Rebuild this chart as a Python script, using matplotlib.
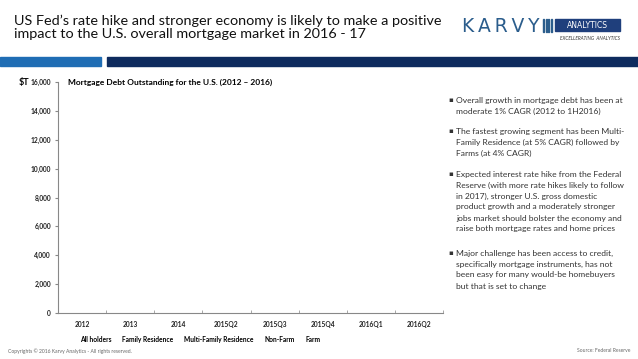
import matplotlib
matplotlib.use("Agg")
import matplotlib.pyplot as plt
from matplotlib.patches import Rectangle, Patch

plt.rcParams["font.family"] = ["Lato", "DejaVu Sans"]

# Chart data (no bars are drawn in the reference, only the frame)
categories = ["2012", "2013", "2014", "2015Q2", "2015Q3", "2015Q4", "2016Q1", "2016Q2"]
series_names = ["All holders", "Family Residence", "Multi-Family Residence", "Non-Farm", "Farm"]
y_ticks = [0, 2000, 4000, 6000, 8000, 10000, 12000, 14000, 16000]

title = ("US Fed\u2019s rate hike and stronger economy is likely to make a positive\n"
         "impact to the U.S. overall mortgage market in 2016 - 17")
chart_title = "Mortgage Debt Outstanding for the U.S. (2012 \u2013 2016)"
bullets = [
    ["Overall growth in mortgage debt has been at",
     "moderate 1% CAGR (2012 to 1H2016)"],
    ["The fastest growing segment has been Multi-",
     "Family Residence (at 5% CAGR) followed by",
     "Farms (at 4% CAGR)"],
    ["Expected interest rate hike from the Federal",
     "Reserve (with more rate hikes likely to follow",
     "in 2017), stronger U.S. gross domestic",
     "product growth and a moderately stronger",
     "jobs market should bolster the economy and",
     "raise both mortgage rates and home prices"],
    ["Major challenge has been access to credit,",
     "specifically mortgage instruments, has not",
     "been easy for many would-be homebuyers",
     "but that is set to change"],
]

W, H = 638, 359
fig = plt.figure(figsize=(W / 100, H / 100), dpi=100)
fig.patch.set_facecolor("white")


def fx(px):
    return px / W


def fy(py):
    return 1 - py / H


# header
fig.text(fx(14), fy(14.5), title, fontsize=10.4, color="#111111", va="top",
         ha="left", linespacing=1.15)

# logo
fig.text(fx(462), fy(26), "K\u2009A\u2009R\u2009V\u2009Y", fontsize=13.5,
         color="#2b5d8c", va="center", ha="left", family="DejaVu Sans")
for i in range(4):
    fig.patches.append(Rectangle((fx(543 + i * 2.5), fy(32)), fx(1.2), 13 / H,
                                 transform=fig.transFigure, color="#2b5d8c"))
fig.patches.append(Rectangle((fx(555), fy(31)), fx(65), 12 / H,
                             transform=fig.transFigure, color="#1f3f7c"))
fig.text(fx(587), fy(25), "ANALYTICS", fontsize=5.5, color="white",
         va="center", ha="center", family="DejaVu Sans")
fig.text(fx(620), fy(39), "EXCELLERATING  ANALYTICS", fontsize=3.4,
         color="#333333", va="center", ha="right", style="italic")

# band
fig.patches.append(Rectangle((0, fy(66)), fx(101), 9 / H,
                             transform=fig.transFigure, color="#1f6db4"))
fig.patches.append(Rectangle((fx(107), fy(66)), fx(W - 107), 9 / H,
                             transform=fig.transFigure, color="#0e2b5e"))

# chart
ax = fig.add_axes([fx(58), fy(313), fx(443 - 58), (313 - 82) / H])
x = list(range(len(categories)))
ax.set_xlim(-0.5, len(categories) - 0.5)
ax.set_ylim(0, 16000)
ax.set_yticks(y_ticks)
ax.set_yticklabels([f"{v:,}" for v in y_ticks], fontsize=4.8,
                   fontweight="bold", color="#222222")
ax.set_xticks(x)
ax.set_xticklabels(categories, fontsize=4.8, fontweight="bold",
                   color="#222222")
ax.set_xticks([i + 0.5 for i in range(-1, len(categories))], minor=True)
ax.tick_params(axis="x", which="major", length=0, pad=6)
ax.tick_params(axis="x", which="minor", length=2, color="#999999",
               direction="in")
ax.tick_params(axis="y", length=2, color="#888888", pad=3)
for s in ["top", "right"]:
    ax.spines[s].set_visible(False)
for s in ["left", "bottom"]:
    ax.spines[s].set_color("#888888")
    ax.spines[s].set_linewidth(0.8)

ax.text(-0.075, 1.0, "$T", transform=ax.transAxes, fontsize=6.5,
        fontweight="bold", ha="right", va="center")
ax.text(fx(68 - 58) / fx(443 - 58), 1.0, chart_title, transform=ax.transAxes,
        fontsize=6.0, fontweight="bold", ha="left", va="center")

handles = [Patch(facecolor="none", edgecolor="none", label=n) for n in series_names]
leg = ax.legend(handles=handles, ncol=5, loc="center",
                bbox_to_anchor=(fx(200 - 58) / fx(443 - 58), -0.115),
                frameon=False, handlelength=0, handletextpad=0,
                columnspacing=1.6, prop={"size": 4.8, "weight": "bold"})

# bullets
starts = [100, 131, 174, 253]
for lines, y0 in zip(bullets, starts):
    fig.text(fx(448), fy(y0), "\u25aa", fontsize=5, ha="left", va="center",
             color="#333333", family="DejaVu Sans")
    for j, line in enumerate(lines):
        fig.text(fx(456), fy(y0 + 11 * j), line, fontsize=6.1,
                 color="#333333", ha="left", va="center")

# footer
fig.text(fx(8), fy(351), "Copyrights \u00a9 2016 Karvy Analytics - All rights reserved.",
         fontsize=3.6, color="#666666", ha="left", va="center")
fig.text(fx(630), fy(351), "Source: Federal Reserve", fontsize=3.6,
         color="#666666", ha="right", va="center")

fig.savefig("out.png", dpi=100)
